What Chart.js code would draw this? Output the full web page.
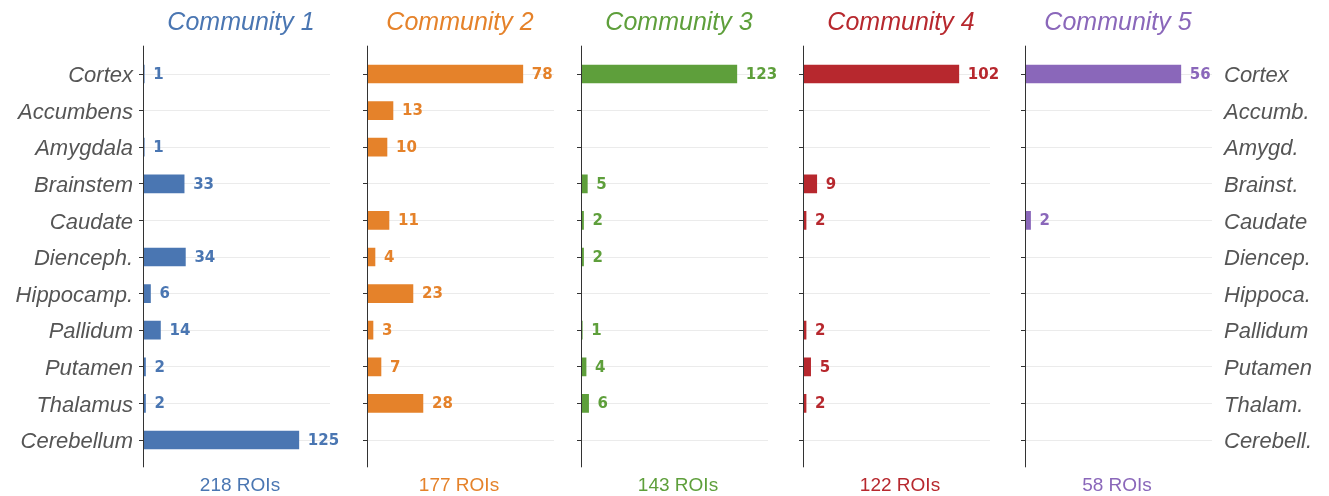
<!DOCTYPE html>
<html>
<head>
<meta charset="utf-8">
<script src="https://cdn.jsdelivr.net/npm/chart.js@4.4.1/dist/chart.umd.min.js"></script>
<style>
  body { margin: 0; background: #fff; }
  #wrap { position: relative; width: 1329px; height: 496px; overflow: hidden; }
  #wrap canvas { position: absolute; top: 0; }
  .title { position: absolute; top: 9px; font: italic 25px "Liberation Sans", Arial, sans-serif; line-height: 25px; white-space: nowrap; transform: translateX(-50%); }
  .rois { position: absolute; top: 475px; font: 19px "Liberation Sans", Arial, sans-serif; line-height: 19px; white-space: nowrap; transform: translateX(-50%); }
</style>
</head>
<body>
<div id="wrap"></div>
<script>
// categories
const regions = ["Cortex", "Accumbens", "Amygdala", "Brainstem", "Caudate", "Dienceph.", "Hippocamp.", "Pallidum", "Putamen", "Thalamus", "Cerebellum"];
const regionsShort = ["Cortex", "Accumb.", "Amygd.", "Brainst.", "Caudate", "Diencep.", "Hippoca.", "Pallidum", "Putamen", "Thalam.", "Cerebell."];

// ROI counts per community
const community1 = [1, 0, 1, 33, 0, 34, 6, 14, 2, 2, 125];
const community2 = [78, 13, 10, 0, 11, 4, 23, 3, 7, 28, 0];
const community3 = [123, 0, 0, 5, 2, 2, 0, 1, 4, 6, 0];
const community4 = [102, 0, 0, 9, 2, 0, 0, 2, 5, 2, 0];
const community5 = [56, 0, 0, 0, 2, 0, 0, 0, 0, 0, 0];

const communityNames = ["Community 1", "Community 2", "Community 3", "Community 4", "Community 5"];
const roiTotals = [218, 177, 143, 122, 58];
const colors = ["#4a76b2", "#e5822a", "#5e9f3b", "#b7282e", "#8a67ba"];

const series = [community1, community2, community3, community4, community5];

// layout
const axisX = [143, 367, 581, 803, 1025];
const titleX = [241, 460, 679, 901, 1118];
const plotW = 187;
const plotTop = 55.7, plotBottom = 458.3;
const labelFont = { family: "Liberation Sans", size: 22, style: "italic" };

const barExtras = {
  id: "barExtras",
  afterDatasetsDraw(chart) {
    const ctx = chart.ctx;
    const ds = chart.data.datasets[0];
    const meta = chart.getDatasetMeta(0);
    ctx.save();
    ctx.font = 'bold 15px "DejaVu Sans"';
    ctx.fillStyle = ds.backgroundColor;
    ctx.textAlign = "left";
    ctx.textBaseline = "middle";
    meta.data.forEach((bar, j) => {
      const v = ds.data[j];
      if (!v) return;
      ctx.fillText(String(v), bar.x + 9, bar.y + 1);
    });
    // vertical axis line, a bit longer than the plot area
    const x = Math.floor(chart.chartArea.left) + 0.5;
    ctx.strokeStyle = "#333";
    ctx.lineWidth = 1;
    ctx.beginPath();
    ctx.moveTo(x, chart.chartArea.top - 10);
    ctx.lineTo(x, chart.chartArea.bottom + 9);
    ctx.stroke();
    ctx.restore();
  }
};

const wrap = document.getElementById("wrap");

series.forEach((values, i) => {
  const leftW = i === 0 ? 143 : 10;
  const rightW = i === 4 ? 110 : 40;
  const canvas = document.createElement("canvas");
  canvas.width = leftW + plotW + rightW;
  canvas.height = 496;
  canvas.style.left = (axisX[i] - leftW) + "px";
  wrap.appendChild(canvas);

  const t = document.createElement("div");
  t.className = "title";
  t.style.left = titleX[i] + "px";
  t.style.color = colors[i];
  t.textContent = communityNames[i];
  wrap.appendChild(t);

  const r = document.createElement("div");
  r.className = "rois";
  r.style.left = (titleX[i] - 1) + "px";
  r.style.color = colors[i];
  r.textContent = roiTotals[i] + " ROIs";
  wrap.appendChild(r);

  const scales = {
    x: { display: false, min: 0, max: Math.max(...values) * 1.2 },
    y: {
      type: "category",
      offset: true,
      border: { display: false },
      grid: { offset: false, color: "#ebebeb", lineWidth: 1, tickColor: "#333", tickLength: 4 },
      ticks: { display: i === 0, padding: 6, labelOffset: 2, color: "#555", font: labelFont },
      afterFit: s => { s.width = leftW; }
    }
  };
  if (i === 4) {
    scales.yR = {
      type: "category",
      position: "right",
      labels: regionsShort,
      offset: true,
      border: { display: false },
      grid: { display: false, drawTicks: false },
      ticks: { padding: 12, labelOffset: 2, color: "#555", font: labelFont },
      afterFit: s => { s.width = rightW; }
    };
  }

  new Chart(canvas, {
    type: "bar",
    data: {
      labels: regions,
      datasets: [{
        data: values,
        backgroundColor: colors[i],
        borderWidth: 0,
        barThickness: 18
      }]
    },
    options: {
      indexAxis: "y",
      responsive: false,
      animation: false,
      layout: { padding: { top: plotTop, bottom: 496 - plotBottom, left: 0, right: i === 4 ? 0 : rightW } },
      plugins: { legend: { display: false }, tooltip: { enabled: false } },
      scales: scales
    },
    plugins: [barExtras]
  });
});
</script>
</body>
</html>
